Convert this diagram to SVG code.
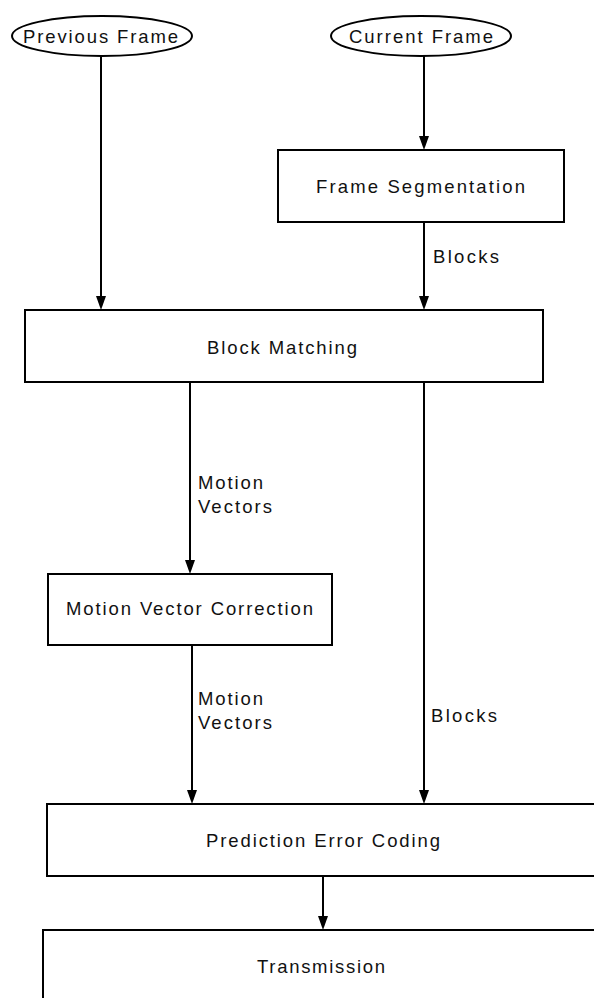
<svg xmlns="http://www.w3.org/2000/svg" width="594" height="998" viewBox="0 0 594 998">
<defs>
<style>
.n{fill:#fff;stroke:#000;stroke-width:2}
.t{font-family:"Liberation Sans",Arial,sans-serif;font-size:18.5px;fill:#111}
.c{stroke:#000;stroke-width:2;fill:none}
</style>
</defs>
<rect width="594" height="998" fill="#fff"/>
<g id="connectors">
<line class="c" x1="101" y1="56" x2="101" y2="300"/>
<line class="c" x1="424" y1="56" x2="424" y2="140"/>
<line class="c" x1="424" y1="222" x2="424" y2="300"/>
<line class="c" x1="190" y1="382" x2="190" y2="564"/>
<line class="c" x1="424" y1="382" x2="424" y2="794"/>
<line class="c" x1="192" y1="645" x2="192" y2="794"/>
<line class="c" x1="323" y1="876" x2="323" y2="920"/>
<path d="M96,296 L106,296 L101,310 Z"/>
<path d="M419,136 L429,136 L424,150 Z"/>
<path d="M419,296 L429,296 L424,310 Z"/>
<path d="M185,560 L195,560 L190,574 Z"/>
<path d="M419,790 L429,790 L424,804 Z"/>
<path d="M187,790 L197,790 L192,804 Z"/>
<path d="M318,916 L328,916 L323,930 Z"/>
<text class="t" x="433" y="263" textLength="66" lengthAdjust="spacing">Blocks</text>
<text class="t" x="198" y="489" textLength="65" lengthAdjust="spacing">Motion</text>
<text class="t" x="198" y="513" textLength="74" lengthAdjust="spacing">Vectors</text>
<text class="t" x="198" y="705" textLength="65" lengthAdjust="spacing">Motion</text>
<text class="t" x="198" y="729" textLength="74" lengthAdjust="spacing">Vectors</text>
<text class="t" x="431" y="722" textLength="66" lengthAdjust="spacing">Blocks</text>
</g>
<g id="previous-frame">
<ellipse class="n" cx="102" cy="36" rx="90" ry="20"/>
<text class="t" x="23" y="43" textLength="155" lengthAdjust="spacing">Previous Frame</text>
</g>
<g id="current-frame">
<ellipse class="n" cx="421" cy="36" rx="90" ry="20"/>
<text class="t" x="349" y="43" textLength="144" lengthAdjust="spacing">Current Frame</text>
</g>
<g id="frame-segmentation">
<rect class="n" x="278" y="150" width="286" height="72"/>
<text class="t" x="316" y="193" textLength="209" lengthAdjust="spacing">Frame Segmentation</text>
</g>
<g id="block-matching">
<rect class="n" x="25" y="310" width="518" height="72"/>
<text class="t" x="207" y="354" textLength="150" lengthAdjust="spacing">Block Matching</text>
</g>
<g id="motion-vector-correction">
<rect class="n" x="48" y="574" width="284" height="71"/>
<text class="t" x="66" y="615" textLength="247" lengthAdjust="spacing">Motion Vector Correction</text>
</g>
<g id="prediction-error-coding">
<rect class="n" x="47" y="804" width="560" height="72"/>
<text class="t" x="206" y="847" textLength="234" lengthAdjust="spacing">Prediction Error Coding</text>
</g>
<g id="transmission">
<rect class="n" x="43" y="930" width="570" height="90"/>
<text class="t" x="257" y="973" textLength="128" lengthAdjust="spacing">Transmission</text>
</g>
</svg>
